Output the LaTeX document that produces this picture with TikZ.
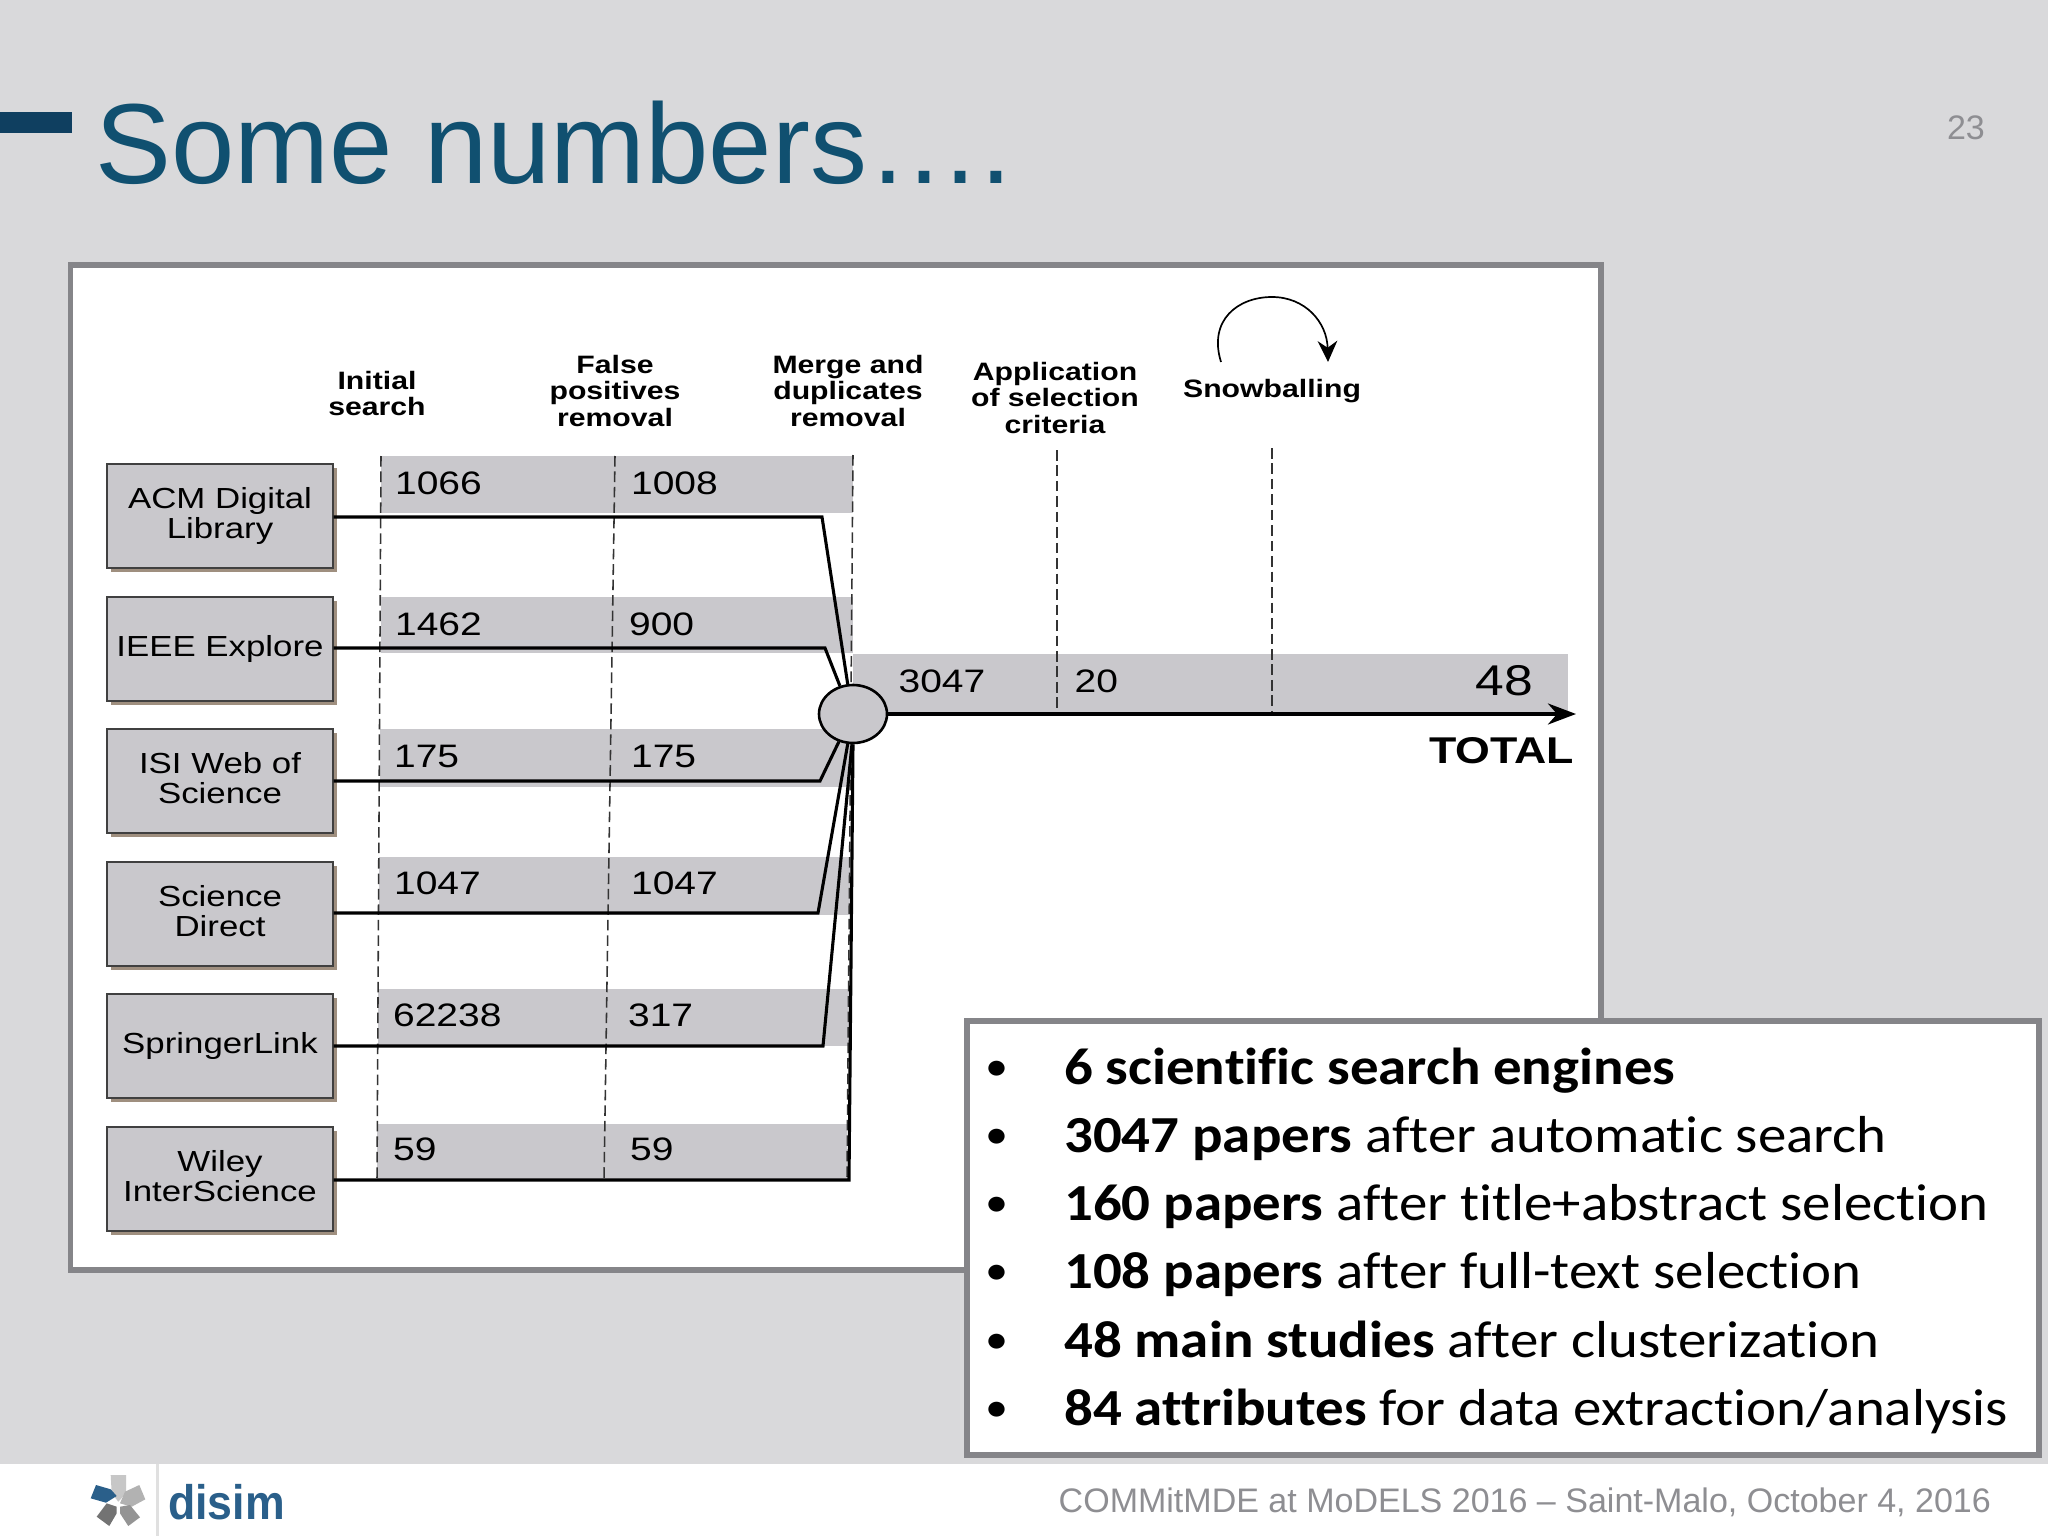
\documentclass[tikz,border=0pt]{standalone}
\usepackage{fontspec}
\usepackage{xcolor}
\usepackage{tikz}
\usetikzlibrary{arrows.meta,shapes.geometric,shadows}

\setmainfont{Liberation Sans}
\newfontfamily\figfont[FakeStretch=1.2]{Liberation Sans}
\newfontfamily\logofont[FakeStretch=0.92]{Liberation Sans}
\newfontfamily\calloutfont[FakeStretch=1.094,Ligatures=NoCommon]{Carlito}

\definecolor{slidebg}{HTML}{D9D9DB}
\definecolor{framegray}{HTML}{858589}
\definecolor{bargray}{HTML}{C9C8CC}
\definecolor{titleblue}{HTML}{105070}
\definecolor{dashblue}{HTML}{0F3F60}
\definecolor{logoblue}{HTML}{2A5F8A}
\definecolor{footgray}{HTML}{8E8E92}

\begin{document}
\begin{tikzpicture}[
		x=0.05cm, y=-0.05cm,
		source/.style={rectangle, draw=black!75, line width=2pt, fill=bargray, minimum width=11.3cm, minimum height=5.2cm, inner sep=0pt, text depth=8.7pt, align=center, font=\figfont\fontsize{41.3}{42.7}\selectfont, drop shadow={shadow xshift=5.5pt, shadow yshift=-5.5pt, fill=black!75!orange, opacity=.5}},
		header/.style={inner sep=0pt, align=center, font=\figfont\bfseries\fontsize{35.8}{38.4}\selectfont},
		count/.style={inner sep=0pt, anchor=base west, font=\figfont\fontsize{46.2}{46.2}\selectfont},
		bar/.style={fill=bargray},
		column/.style={line width=2.2pt, draw=black!80, dash pattern=on 15pt off 7pt},
		feed/.style={line width=4.4pt, line join=miter},
		point/.style={inner sep=0pt, anchor=base west, font=\calloutfont\fontsize{74}{74}\selectfont},
		dot/.style={inner sep=0pt, anchor=base, font=\calloutfont\fontsize{60}{60}\selectfont}
	]
		\useasboundingbox (0,0) rectangle (2048,1536);

		% Slide
		\fill[slidebg] (0,0) rectangle (2048,1536);
		\fill[white] (0,1464) rectangle (2048,1536);
		\fill[dashblue] (0,112) rectangle (72,133);
		\node[inner sep=0pt, anchor=base west, text=titleblue, font=\fontsize{162}{162}\selectfont] (title) at (95,184) {Some numbers….};
		\node[inner sep=0pt, anchor=base east, text=footgray, font=\fontsize{48.4}{48.4}\selectfont] (page) at (1985,140) {23};

		% Figure frame
		\draw[line width=8pt, draw=framegray, fill=white] (70.5,265) rectangle (1601,1270);

		% Bars
		\fill[bar] (381,456) rectangle (853,513);
		\fill[bar] (381,597) rectangle (853,653);
		\fill[bar] (380,729) rectangle (853,787);
		\fill[bar] (379,857) rectangle (853,915);
		\fill[bar] (378,989) rectangle (852,1046);
		\fill[bar] (377,1124) rectangle (847,1180);
		\fill[bar] (853,654) rectangle (1568,714);

		% Column lines
		\coordinate (col1top) at (381,456);
		\coordinate (col1end) at (377,1180);
		\coordinate (col2top) at (615,456);
		\coordinate (col2end) at (604,1180);
		\coordinate (col3top) at (853,455);
		\coordinate (col3end) at (847,1178);
		\coordinate (col4top) at (1057,450);
		\coordinate (col4end) at (1057,714);
		\coordinate (col5top) at (1272,448);
		\coordinate (col5end) at (1272,714);
		\draw[column] (col1top) -- (col1end);
		\draw[column] (col2top) -- (col2end);
		\draw[column] (col3top) -- (col3end);
		\draw[column] (col4top) -- (col4end);
		\draw[column] (col5top) -- (col5end);

		% Headers
		\node[header] (initial) at (377,393.5) {Initial\\search};
		\node[header] (false) at (615,391) {False\\positives\\removal};
		\node[header] (dedup) at (848,391) {Merge and\\duplicates\\removal};
		\node[header] (apply) at (1055,398) {Application\\of selection\\criteria};
		\node[header] (snow) at (1272,391) {Snowballing};

		% Snowballing loop
		\coordinate (snowfrom) at (1221,362);
		\coordinate (snowto) at (1328,362);
		\draw[line width=2.4pt, -{Stealth[length=30pt, width=28pt]}] (snowfrom) .. controls (1208,320) and (1238,297) .. (1272,297) .. controls (1305,297) and (1327,322) .. (snowto);

		% Sources
		\node[source] (acm) at (220,516) {ACM Digital\\Library};
		\node[source] (ieee) at (220,649) {IEEE Explore};
		\node[source] (isi) at (220,781) {ISI Web of\\Science};
		\node[source] (sd) at (220,914) {Science\\Direct};
		\node[source] (springer) at (220,1046) {SpringerLink};
		\node[source] (wiley) at (220,1179) {Wiley\\InterScience};

		% Merge point
		\node[ellipse, draw, line width=3.7pt, fill=bargray, minimum width=3.4cm, minimum height=2.9cm, inner sep=0pt] (merge) at (853,714) {};

		% Feeds
		\coordinate (bendacm) at (822,517);
		\coordinate (bendieee) at (825,648);
		\coordinate (bendisi) at (820,781);
		\coordinate (bendsd) at (818,913);
		\coordinate (bendspringer) at (823,1046);
		\coordinate (bendwiley) at (849,1180);
		\draw[feed] (acm.east |- bendacm) -- (bendacm) -- (merge.100);
		\draw[feed] (ieee.east |- bendieee) -- (bendieee) -- (merge.115);
		\draw[feed] (isi.east |- bendisi) -- (bendisi) -- (merge.-117);
		\draw[feed] (sd.east |- bendsd) -- (bendsd) -- (merge.-100);
		\draw[feed] (springer.east |- bendspringer) -- (bendspringer) -- (merge.-92);
		\draw[feed] (wiley.east |- bendwiley) -- (bendwiley) -- (merge.-90);

		% Total
		\coordinate (totalend) at (1576,714);
		\draw[line width=4.6pt, -{Stealth[length=40pt, width=30pt]}] (merge.east) -- (totalend);
		\node[inner sep=0pt, anchor=base east, font=\figfont\bfseries\fontsize{53}{53}\selectfont] (total) at (1574,763) {TOTAL};

		% Counts
		\node[count] (n11) at (395,494) {1066};
		\node[count] (n12) at (631,494) {1008};
		\node[count] (n21) at (395,635) {1462};
		\node[count] (n22) at (629,635) {900};
		\node[count] (n31) at (394,767) {175};
		\node[count] (n32) at (631,767) {175};
		\node[count] (n41) at (394,894) {1047};
		\node[count] (n42) at (631,894) {1047};
		\node[count] (n51) at (393,1026) {62238};
		\node[count] (n52) at (628,1026) {317};
		\node[count] (n61) at (393,1160) {59};
		\node[count] (n62) at (630,1160) {59};
		\node[count] (n71) at (898.5,692.5) {3047};
		\node[count] (n72) at (1074.5,692.5) {20};
		\node[inner sep=0pt, anchor=base east, font=\figfont\fontsize{61.2}{61.2}\selectfont] (n73) at (1533,695) {48};

		% Callout
		\draw[line width=8pt, draw=framegray, fill=white] (967,1021) rectangle (2039,1455);
		\node[dot] (b1) at (997,1080) {•};
		\node[dot] (b2) at (997,1148) {•};
		\node[dot] (b3) at (997,1216) {•};
		\node[dot] (b4) at (997,1284) {•};
		\node[dot] (b5) at (997,1353) {•};
		\node[dot] (b6) at (997,1421) {•};
		\node[point] (p1) at (1064,1084) {\textbf{6 scientific search engines}};
		\node[point] (p2) at (1064,1152) {\textbf{3047 papers} after automatic search};
		\node[point] (p3) at (1064,1220) {\textbf{160 papers} after title+abstract selection};
		\node[point] (p4) at (1064,1288) {\textbf{108 papers} after full-text selection};
		\node[point] (p5) at (1064,1357) {\textbf{48 main studies} after clusterization};
		\node[point] (p6) at (1064,1425) {\textbf{84 attributes} for data extraction/analysis};

		% Footer
		\fill[black!12] (155.5,1464) rectangle (158.5,1536);
		\fill[black!22] (110.7,1475) -- (126,1475) -- (126,1493.3) -- (118.3,1501.7) -- (111.7,1493.3) -- cycle;
		\fill[logoblue] (90.7,1498.3) -- (96,1485) -- (110.7,1489.3) -- (116.7,1496) -- (106,1502.7) -- cycle;
		\fill[black!30] (125,1491.7) -- (139.3,1485) -- (145.3,1499.3) -- (131.7,1506.7) -- (120,1503.3) -- cycle;
		\fill[black!55] (96.7,1516.7) -- (106.7,1503.3) -- (116.7,1506.7) -- (116.7,1513.3) -- (109.3,1526) -- cycle;
		\fill[black!42] (120,1506.7) -- (130,1505) -- (140,1517.3) -- (128.3,1526) -- (120,1513.3) -- cycle;
		\node[inner sep=0pt, anchor=base west, text=logoblue, font=\logofont\bfseries\fontsize{69}{69}\selectfont] (disim) at (168,1519) {disim};
		\node[inner sep=0pt, anchor=base east, text=footgray, font=\fontsize{48.4}{48.4}\selectfont] (venue) at (1991,1512) {COMMitMDE at MoDELS 2016 – Saint-Malo, October 4, 2016};
	\end{tikzpicture}
\end{document}
